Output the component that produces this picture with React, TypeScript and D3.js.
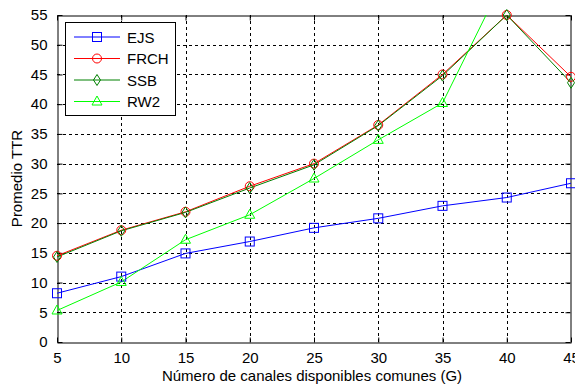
import React, { useEffect, useRef } from "react";
import * as d3 from "d3";

const channels = [5, 10, 15, 20, 25, 30, 35, 40, 45];
const ejs = [8.2, 11.0, 14.9, 16.9, 19.2, 20.8, 22.9, 24.3, 26.7];
const frch = [14.5, 18.8, 21.9, 26.2, 30.0, 36.5, 45.0, 55.0, 44.6];
const ssb = [14.3, 18.7, 21.8, 25.9, 29.8, 36.4, 44.8, 55.0, 43.6];
const rw2 = [5.3, 10.1, 17.2, 21.4, 27.5, 34.0, 40.2, 62.0, 60.0];

const seriesNames = ["EJS", "FRCH", "SSB", "RW2"];
const seriesColors = ["#0000ff", "#ff0000", "#008000", "#00ff00"];
const seriesMarkers = ["square", "circle", "diamond", "triangle"];
const yTicks = [0, 5, 10, 15, 20, 25, 30, 35, 40, 45, 50, 55];

const App = () => {
  const svgRef = useRef<SVGSVGElement>(null);

  useEffect(() => {
    const width = 575;
    const height = 384;
    const margin = { top: 15, right: 4, bottom: 42, left: 57 };

    const svg = d3.select(svgRef.current);
    svg.selectAll("*").remove();
    svg.attr("width", width).attr("height", height);

    svg.append("rect").attr("width", width).attr("height", height).attr("fill", "#fff");

    const x = d3.scaleLinear().domain([5, 45]).range([margin.left, width - margin.right]);
    const y = d3.scaleLinear().domain([0, 55]).range([height - margin.bottom, margin.top]);

    const font = "'Liberation Sans', Arial, sans-serif";

    svg
      .append("defs")
      .append("clipPath")
      .attr("id", "plot-clip")
      .append("rect")
      .attr("x", x(5))
      .attr("y", y(55))
      .attr("width", x(45) - x(5))
      .attr("height", y(0) - y(55));

    // dotted grid
    const grid = svg.append("g").attr("stroke", "#000").attr("stroke-dasharray", "3,3").attr("stroke-width", 1);
    channels.slice(1, -1).forEach((c) => {
      grid.append("line").attr("x1", Math.round(x(c)) + 0.5).attr("x2", Math.round(x(c)) + 0.5).attr("y1", y(0)).attr("y2", y(55));
    });
    yTicks.slice(1, -1).forEach((v) => {
      grid.append("line").attr("y1", Math.round(y(v)) + 0.5).attr("y2", Math.round(y(v)) + 0.5).attr("x1", x(5)).attr("x2", x(45));
    });

    // axes box, ticks inside
    const bottom = svg
      .append("g")
      .attr("transform", `translate(0,${Math.round(y(0)) + 0.5})`)
      .call(d3.axisBottom(x).tickValues(channels).tickSizeInner(-5).tickSizeOuter(0).tickPadding(10));
    const left = svg
      .append("g")
      .attr("transform", `translate(${Math.round(x(5)) + 0.5},0)`)
      .call(d3.axisLeft(y).tickValues(yTicks).tickSizeInner(-5).tickSizeOuter(0).tickPadding(10));
    svg
      .append("g")
      .attr("transform", `translate(0,${Math.round(y(55)) + 0.5})`)
      .call(d3.axisTop(x).tickValues(channels).tickSizeInner(-5).tickSizeOuter(0).tickFormat(() => ""));
    svg
      .append("g")
      .attr("transform", `translate(${Math.round(x(45)) - 0.5},0)`)
      .call(d3.axisRight(y).tickValues(yTicks).tickSizeInner(-5).tickSizeOuter(0).tickFormat(() => ""));

    svg.selectAll(".domain").attr("stroke", "#000");
    svg.selectAll(".tick line").attr("stroke", "#000");
    [bottom, left].forEach((g) =>
      g.selectAll(".tick text").attr("font-family", font).attr("font-size", 15).attr("fill", "#000")
    );

    // axis labels
    svg
      .append("text")
      .attr("x", x(25) - 2)
      .attr("y", 381)
      .attr("text-anchor", "middle")
      .attr("font-family", font)
      .attr("font-size", 15)
      .text("Número de canales disponibles comunes (G)");
    svg
      .append("text")
      .attr("transform", `translate(22,${y(27.5)}) rotate(-90)`)
      .attr("text-anchor", "middle")
      .attr("font-family", font)
      .attr("font-size", 15)
      .text("Promedio TTR");

    const allSeries = [ejs, frch, ssb, rw2];

    const drawMarker = (g: any, kind: string, cx: number, cy: number, color: string) => {
      if (kind === "square") {
        g.append("rect").attr("x", cx - 4.5).attr("y", cy - 4.5).attr("width", 9).attr("height", 9)
          .attr("fill", "none").attr("stroke", color);
      } else if (kind === "circle") {
        g.append("circle").attr("cx", cx).attr("cy", cy).attr("r", 4.5).attr("fill", "none").attr("stroke", color);
      } else if (kind === "diamond") {
        g.append("path").attr("d", `M${cx},${cy - 5.5}L${cx + 3.5},${cy}L${cx},${cy + 5.5}L${cx - 3.5},${cy}Z`)
          .attr("fill", "none").attr("stroke", color);
      } else {
        g.append("path").attr("d", `M${cx},${cy - 5.5}L${cx + 5},${cy + 3.5}L${cx - 5},${cy + 3.5}Z`)
          .attr("fill", "none").attr("stroke", color);
      }
    };

    const plot = svg.append("g").attr("clip-path", "url(#plot-clip)");
    const line = d3.line<number>().x((_, i) => x(channels[i])).y((d) => y(d));

    allSeries.forEach((vals, si) => {
      const color = seriesColors[si];
      const g = svg.append("g");
      plot.append("path").datum(vals).attr("d", line).attr("fill", "none").attr("stroke", color).attr("stroke-width", 1);
      vals.forEach((v, i) => {
        if (v <= 55) drawMarker(g, seriesMarkers[si], x(channels[i]), y(v), color);
      });
    });

    // legend
    const lg = svg.append("g");
    lg.append("rect").attr("x", 65.5).attr("y", 22.5).attr("width", 110).attr("height", 93)
      .attr("fill", "#fff").attr("stroke", "#000");
    seriesNames.forEach((name, i) => {
      const ly = 37 + i * 21.5;
      lg.append("line").attr("x1", 74).attr("x2", 120).attr("y1", ly).attr("y2", ly).attr("stroke", seriesColors[i]);
      drawMarker(lg, seriesMarkers[i], 97, ly, seriesColors[i]);
      lg.append("text").attr("x", 127).attr("y", ly + 5.5).attr("font-family", font).attr("font-size", 15).text(name);
    });
  }, []);

  return (
    <div style={{ position: "absolute", left: 0, top: 0 }}>
      <svg ref={svgRef} style={{ display: "block" }} />
    </div>
  );
};

export default App;
